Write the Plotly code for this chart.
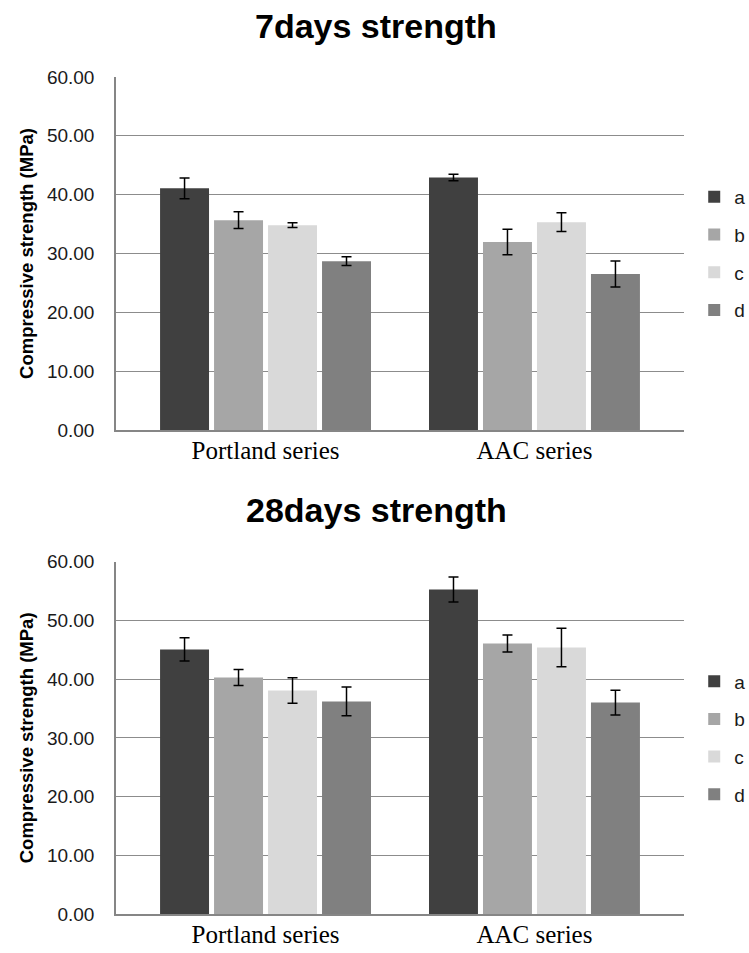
import plotly.graph_objects as go

categories = ["Portland series", "AAC series"]
series_names = ["a", "b", "c", "d"]
colors = ["#404040", "#A6A6A6", "#D9D9D9", "#808080"]

# 7 days strength (MPa): value per category, and error
d7_a = [41.07, 42.92]
d7_b = [35.67, 31.96]
d7_c = [34.82, 35.33]
d7_d = [28.70, 26.51]
d7_a_err = [1.75, 0.54]
d7_b_err = [1.44, 2.18]
d7_c_err = [0.40, 1.61]
d7_d_err = [0.73, 2.20]

# 28 days strength (MPa)
d28_a = [45.06, 55.28]
d28_b = [40.28, 46.08]
d28_c = [38.07, 45.40]
d28_d = [36.20, 36.00]
d28_a_err = [1.99, 2.13]
d28_b_err = [1.36, 1.45]
d28_c_err = [2.16, 3.27]
d28_d_err = [2.44, 2.10]

titles = ["7days strength", "28days strength"]
y_ticks = [0, 10, 20, 30, 40, 50, 60]
y_title = "Compressive strength (MPa)"

W, H = 749, 953
ML, MR, MT, MB = 116, 65, 77, 39
plot_h = H - MT - MB
top_dom = [(914 - 430) / plot_h, 1.0]
bot_dom = [0.0, (914 - 561.7) / plot_h]

fig = go.Figure()

sets = [
    ([d7_a, d7_b, d7_c, d7_d], [d7_a_err, d7_b_err, d7_c_err, d7_d_err], "x", "y", "legend"),
    ([d28_a, d28_b, d28_c, d28_d], [d28_a_err, d28_b_err, d28_c_err, d28_d_err], "x2", "y2", "legend2"),
]
for vals, errs, xa, ya, lg in sets:
    for name, col, v, e in zip(series_names, colors, vals, errs):
        fig.add_trace(go.Bar(
            x=categories, y=v, name=name, marker=dict(color=col, line=dict(width=0)),
            error_y=dict(type="data", array=e, visible=True, color="#000000", thickness=1.5, width=5),
            xaxis=xa, yaxis=ya, legend=lg, legendgroup=lg + name,
        ))

tick_font = dict(family="Liberation Sans, Arial, sans-serif", size=19, color="#1a1a1a")
xcat_font = dict(family="Liberation Serif, Times New Roman, serif", size=25, color="#000000")
ytitle_font = dict(family="Liberation Sans, Arial, sans-serif", size=18.5, color="#000000")
title_font = dict(family="Liberation Sans, Arial, sans-serif", size=34, color="#000000")
legend_font = dict(family="Liberation Sans, Arial, sans-serif", size=19, color="#1a1a1a")

xcommon = dict(type="category", range=[-0.556, 1.556], showgrid=False, showline=True,
               linecolor="#868686", linewidth=1.5, ticks="", tickfont=xcat_font,
               ticklabelstandoff=-3, zeroline=False)
ycommon = dict(range=[0, 60], tickvals=y_ticks, tickformat=".2f", showgrid=True,
               gridcolor="#8C8C8C", gridwidth=1.3, showline=True, linecolor="#868686",
               linewidth=1.5, ticks="", tickfont=tick_font, zeroline=False,
               ticklabelstandoff=16,
               title=dict(text="<b>" + y_title + "</b>", font=ytitle_font, standoff=8))

fig.update_layout(
    width=W, height=H,
    margin=dict(l=ML, r=MR, t=MT, b=MB, autoexpand=False),
    paper_bgcolor="white", plot_bgcolor="white",
    barmode="group", bargap=0.197, bargroupgap=0.093,
    xaxis=dict(domain=[0, 1], anchor="y", **xcommon),
    yaxis=dict(domain=top_dom, anchor="x", **ycommon),
    xaxis2=dict(domain=[0, 1], anchor="y2", **xcommon),
    yaxis2=dict(domain=bot_dom, anchor="x2", **ycommon),
    legend=dict(x=1.018, xanchor="left", y=(top_dom[0] + top_dom[1]) / 2, yanchor="middle",
                font=legend_font, traceorder="grouped", tracegroupgap=10, itemwidth=30,
                bgcolor="rgba(0,0,0,0)"),
    legend2=dict(x=1.018, xanchor="left", y=(bot_dom[0] + bot_dom[1]) / 2, yanchor="middle",
                 font=legend_font, traceorder="grouped", tracegroupgap=10, itemwidth=30,
                 bgcolor="rgba(0,0,0,0)"),
    showlegend=True,
)

# chart titles
for t, ypx in zip(titles, [26, 510]):
    fig.add_annotation(text="<b>" + t + "</b>", xref="paper", yref="paper",
                       x=(376 - ML) / (W - ML - MR), y=(H - MB - ypx) / plot_h,
                       xanchor="center", yanchor="middle", showarrow=False, font=title_font)

fig.write_html("out.html")
